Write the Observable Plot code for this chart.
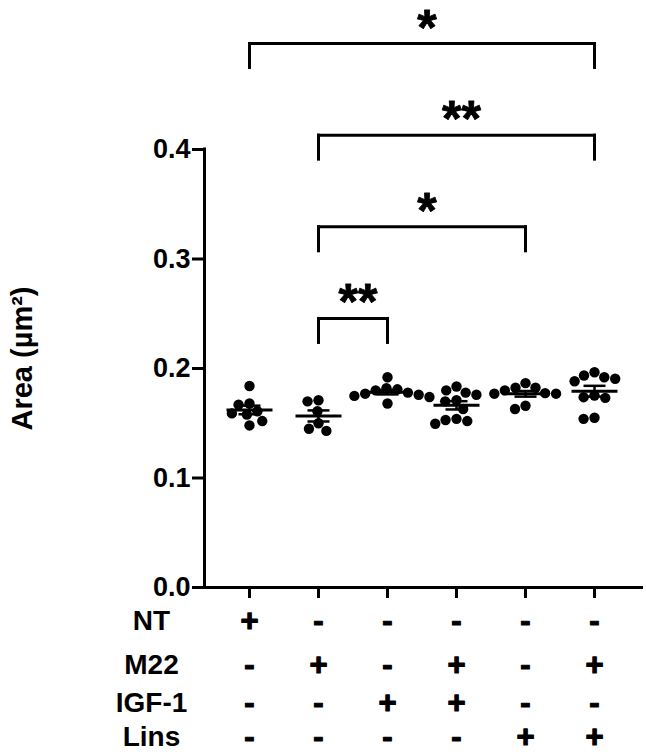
<!DOCTYPE html>
<html>
<head>
<meta charset="utf-8">
<script src="https://cdn.jsdelivr.net/npm/d3@7"></script>
<script src="https://cdn.jsdelivr.net/npm/@observablehq/plot@0.6"></script>
<style>
  html, body { margin: 0; padding: 0; background: #fff; }
  #chart { width: 646px; height: 754px; }
</style>
</head>
<body>
<div id="chart"></div>
<script>
// ---------- data ----------
const groupIndex = [0, 1, 2, 3, 4, 5];
const factorNames = ["NT", "M22", "IGF-1", "Lins"];
const ntRow   = ["+", "-", "-", "-", "-", "-"];
const m22Row  = ["-", "+", "-", "+", "-", "+"];
const igfRow  = ["-", "-", "+", "+", "-", "-"];
const linsRow = ["-", "-", "-", "-", "+", "+"];

const valsNT      = [0.184, 0.168, 0.167, 0.161, 0.159, 0.158, 0.152, 0.148];
const valsM22     = [0.171, 0.170, 0.161, 0.150, 0.145, 0.143];
const valsIGF     = [0.192, 0.182, 0.181, 0.180, 0.178, 0.177, 0.176, 0.175, 0.174, 0.168];
const valsM22IGF  = [0.1836, 0.176, 0.178, 0.180, 0.171, 0.170, 0.163, 0.1495, 0.154, 0.152, 0.153];
const valsLins    = [0.1866, 0.1824, 0.180, 0.1824, 0.177, 0.177, 0.1775, 0.163, 0.166];
const valsM22Lins = [0.1966, 0.1906, 0.192, 0.1884, 0.1936, 0.1753, 0.1738, 0.1732, 0.154, 0.155];

const yTicks = [0, 0.1, 0.2, 0.3, 0.4];

// significance comparisons (from group, to group, label), lowest bracket first
const compFrom  = [1, 1, 1, 0];
const compTo    = [2, 4, 5, 5];
const compLabel = ["**", "*", "**", "*"];

// ---------- layout ----------
const W = 646, H = 754;
const mTop = 149, mBottom = 167, mLeft = 204, mRight = 3;
const xDomain = [-0.652, 5.71];
const yDomain = [0, 0.4];
const KX = (W - mLeft - mRight) / (xDomain[1] - xDomain[0]); // px per group unit
const KY = (H - mTop - mBottom) / (yDomain[1] - yDomain[0]); // px per value unit
const R = 5.2;

const allVals = [valsNT, valsM22, valsIGF, valsM22IGF, valsLins, valsM22Lins];

// simple beeswarm (pixel offsets)
function swarm(vals, r) {
  const order = vals.map((v, i) => i).sort((a, b) => vals[b] - vals[a]);
  const placed = [];
  const out = new Array(vals.length);
  for (const i of order) {
    const y = vals[i] * KY;
    const cands = [0];
    const ivs = [];
    for (const p of placed) {
      const dy = y - p.y;
      if (Math.abs(dy) < 2 * r) {
        const w = Math.sqrt(4 * r * r - dy * dy);
        ivs.push([p.x - w, p.x + w]);
        cands.push(p.x - w, p.x + w);
      }
    }
    cands.sort((a, b) => Math.abs(a) - Math.abs(b));
    const x = cands.find(c => ivs.every(([a, b]) => c <= a + 1e-9 || c >= b - 1e-9));
    placed.push({x, y});
    out[i] = x;
  }
  return out;
}

const points = [];
allVals.forEach((vals, g) => {
  const offs = swarm(vals, R + 0.3);
  vals.forEach((v, i) => points.push({g, v, x: g + offs[i] / KX}));
});

const stats = allVals.map((vals, g) => {
  const m = d3.mean(vals);
  const sem = d3.deviation(vals) / Math.sqrt(vals.length);
  return {g, m, lo: m - sem, hi: m + sem};
});

const meanHalf = 23 / KX;
const capHalf = 11 / KX;

// brackets
const levelBase = 0.2457, levelStep = 0.0837, drop = 24 / KY;
const brackets = compFrom.map((f, k) => ({
  from: f, to: compTo[k], label: compLabel[k], y: levelBase + k * levelStep
}));
const bracketSegs = [];
brackets.forEach(b => {
  bracketSegs.push({x1: b.from, x2: b.to, y1: b.y, y2: b.y});
  bracketSegs.push({x1: b.from, x2: b.from, y1: b.y, y2: b.y - drop});
  bracketSegs.push({x1: b.to, x2: b.to, y1: b.y, y2: b.y - drop});
});

const rows = [ntRow, m22Row, igfRow, linsRow];
const rowDy = [34, 78, 116, 150];

const FONT = "'Liberation Sans', Arial, Helvetica, sans-serif";
const starSpacing = 10;

const marks = [
  // axes
  Plot.ruleX([xDomain[0]], {y1: yDomain[0], y2: yDomain[1], strokeWidth: 3, strokeLinecap: "square"}),
  Plot.ruleY([0], {strokeWidth: 3}),
  Plot.axisY({ticks: yTicks, tickFormat: d3.format(".1f"), tickSize: 12, tickPadding: 2,
    fontSize: 27, fontWeight: "bold", strokeWidth: 3, label: null}),
  Plot.axisX({ticks: groupIndex, tickFormat: () => "", tickSize: 11, strokeWidth: 3, label: null}),
  // y label
  Plot.text(["Area (µm²)"], {frameAnchor: "left", dx: -182, dy: -10, rotate: -90,
    fontSize: 29, fontWeight: "bold", textAnchor: "middle"}),
  // dots
  Plot.dot(points, {x: "x", y: "v", r: R, fill: "black", stroke: "none"}),
  // mean lines
  Plot.link(stats, {x1: d => d.g - meanHalf, x2: d => d.g + meanHalf, y1: "m", y2: "m", strokeWidth: 3}),
  // SEM
  Plot.link(stats, {x1: "g", x2: "g", y1: "lo", y2: "hi", strokeWidth: 2.5}),
  Plot.link(stats, {x1: d => d.g - capHalf, x2: d => d.g + capHalf, y1: "lo", y2: "lo", strokeWidth: 2.5}),
  Plot.link(stats, {x1: d => d.g - capHalf, x2: d => d.g + capHalf, y1: "hi", y2: "hi", strokeWidth: 2.5}),
  // brackets
  Plot.link(bracketSegs, {x1: "x1", x2: "x2", y1: "y1", y2: "y2", strokeWidth: 3, strokeLinecap: "square"}),
  Plot.text(brackets, {x: d => (d.from + d.to) / 2, y: "y", text: "label", fontSize: 50,
    fontWeight: "bold", lineAnchor: "bottom", dy: 1, dx: starSpacing / 2, letterSpacing: starSpacing,
    fill: "black", stroke: "black", strokeWidth: 0.8}),
];

rows.forEach((row, r) => {
  marks.push(Plot.text(groupIndex, {x: d => d, text: d => row[d], frameAnchor: "bottom",
    dy: rowDy[r], fontSize: 31, fontWeight: "bold", lineAnchor: "middle",
    fill: "black", stroke: "black", strokeWidth: 1.2}));
  marks.push(Plot.text([factorNames[r]], {frameAnchor: "bottom-left", dx: -53, dy: rowDy[r],
    fontSize: 28, fontWeight: "bold", textAnchor: "middle", lineAnchor: "middle"}));
});

const plot = Plot.plot({
  width: W, height: H,
  marginTop: mTop, marginBottom: mBottom, marginLeft: mLeft, marginRight: mRight,
  x: {type: "linear", domain: xDomain, axis: null},
  y: {domain: yDomain, axis: null},
  style: {fontFamily: FONT, fontWeight: "bold", color: "black", background: "white", overflow: "visible"},
  marks
});
document.getElementById("chart").appendChild(plot);
</script>
</body>
</html>
